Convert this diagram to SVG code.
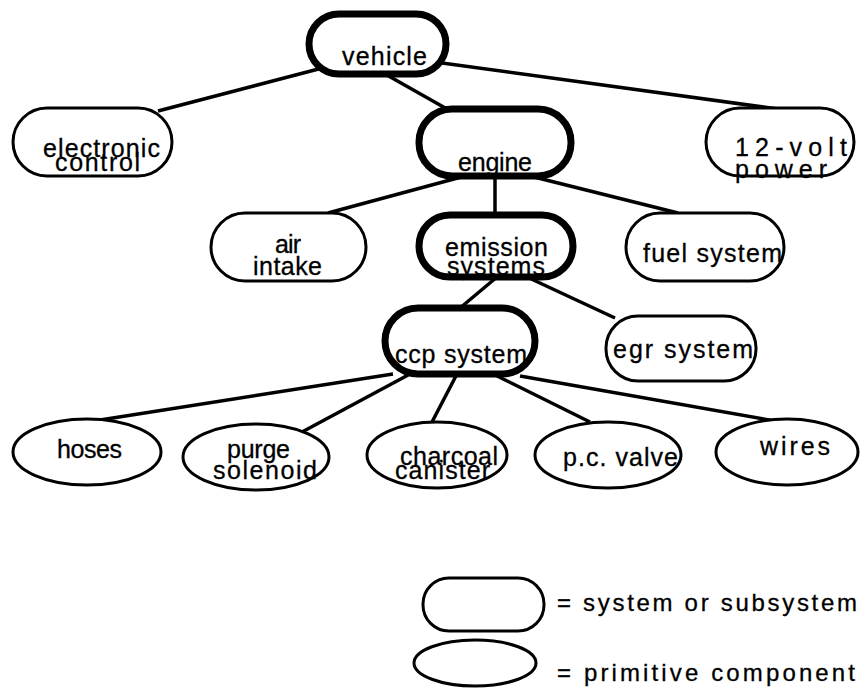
<svg xmlns="http://www.w3.org/2000/svg" width="860" height="688" viewBox="0 0 860 688">
<style>
.sys{fill:#fff;stroke:#000;stroke-width:3}
.thick{fill:#fff;stroke:#000;stroke-width:7}
.prim{fill:#fff;stroke:#000;stroke-width:3}
.edge{stroke:#000;stroke-width:3.5;fill:none}
text{font-family:"Liberation Sans",Arial,sans-serif;font-size:25px;fill:#000;stroke:#000;stroke-width:0.3}
.leg{font-size:24px}
</style>
<rect width="860" height="688" fill="#fff"/>
<g id="connectors">
<line class="edge" x1="330" y1="66" x2="158" y2="111"/>
<line class="edge" x1="378" y1="70" x2="447" y2="109"/>
<line class="edge" x1="420" y1="60" x2="785" y2="110"/>
<line class="edge" x1="465" y1="176" x2="328" y2="213"/>
<line class="edge" x1="495" y1="176" x2="495" y2="215"/>
<line class="edge" x1="530" y1="176" x2="678" y2="213"/>
<line class="edge" x1="497" y1="277" x2="460" y2="308"/>
<line class="edge" x1="527" y1="277" x2="615" y2="318"/>
<line class="edge" x1="393" y1="374" x2="100" y2="420"/>
<line class="edge" x1="410" y1="374" x2="302" y2="432"/>
<line class="edge" x1="457" y1="374" x2="432" y2="422"/>
<line class="edge" x1="487" y1="371" x2="590" y2="422"/>
<line class="edge" x1="520" y1="376" x2="775" y2="421"/>
</g>
<g id="vehicle">
<rect class="thick" x="309" y="14" width="137" height="60" rx="30"/>
<text x="342" y="65" textLength="85" lengthAdjust="spacing">vehicle</text>
</g>
<g id="electronic-control">
<rect class="sys" x="13" y="108" width="159" height="68" rx="34"/>
<text x="43" y="157" textLength="117" lengthAdjust="spacing">electronic</text>
<text x="55" y="171" textLength="85" lengthAdjust="spacing">control</text>
</g>
<g id="engine">
<rect class="thick" x="419" y="109" width="152" height="67" rx="33"/>
<text x="458" y="171" textLength="74" lengthAdjust="spacing">engine</text>
</g>
<g id="power">
<rect class="sys" x="706" y="108" width="148" height="68" rx="34"/>
<text x="735" y="156" textLength="112" lengthAdjust="spacing">12-volt</text>
<text x="735" y="178" textLength="92" lengthAdjust="spacing">power</text>
</g>
<g id="air-intake">
<rect class="sys" x="211" y="213" width="155" height="68" rx="34"/>
<text x="275" y="253" textLength="26" lengthAdjust="spacing">air</text>
<text x="253" y="275" textLength="69" lengthAdjust="spacing">intake</text>
</g>
<g id="emission-systems">
<rect class="thick" x="419" y="215" width="154" height="62" rx="31"/>
<text x="445" y="256" textLength="103" lengthAdjust="spacing">emission</text>
<text x="447" y="275" textLength="98" lengthAdjust="spacing">systems</text>
</g>
<g id="fuel-system">
<rect class="sys" x="626" y="213" width="158" height="68" rx="34"/>
<text x="643" y="262" textLength="139" lengthAdjust="spacing">fuel  system</text>
</g>
<g id="ccp-system">
<rect class="thick" x="385" y="308" width="150" height="66" rx="33"/>
<text x="395" y="363" textLength="132" lengthAdjust="spacing">ccp  system</text>
</g>
<g id="egr-system">
<rect class="sys" x="606" y="316" width="150" height="65" rx="32"/>
<text x="613" y="358" textLength="140" lengthAdjust="spacing">egr  system</text>
</g>
<g id="hoses">
<ellipse class="prim" cx="87" cy="452" rx="74" ry="33"/>
<text x="57" y="458" textLength="65" lengthAdjust="spacing">hoses</text>
</g>
<g id="purge-solenoid">
<ellipse class="prim" cx="256" cy="457" rx="73" ry="33"/>
<text x="227" y="458" textLength="63" lengthAdjust="spacing">purge</text>
<text x="213" y="479" textLength="104" lengthAdjust="spacing">solenoid</text>
</g>
<g id="charcoal-canister">
<ellipse class="prim" cx="437" cy="455" rx="70" ry="33"/>
<text x="400" y="465" textLength="98" lengthAdjust="spacing">charcoal</text>
<text x="395" y="479" textLength="95" lengthAdjust="spacing">canister</text>
</g>
<g id="pc-valve">
<ellipse class="prim" cx="608" cy="455" rx="73" ry="33"/>
<text x="563" y="466" textLength="115" lengthAdjust="spacing">p.c.  valve</text>
</g>
<g id="wires">
<ellipse class="prim" cx="787" cy="452" rx="71" ry="33"/>
<text x="760" y="455" textLength="70" lengthAdjust="spacing">wires</text>
</g>
<g id="legend">
<rect class="sys" x="423" y="578" width="121" height="53" rx="26"/>
<text class="leg" x="557" y="611" textLength="300" lengthAdjust="spacing">= system or subsystem</text>
<ellipse class="prim" cx="475" cy="663" rx="61" ry="23"/>
<text class="leg" x="557" y="681" textLength="298" lengthAdjust="spacing">= primitive component</text>
</g>
</svg>
